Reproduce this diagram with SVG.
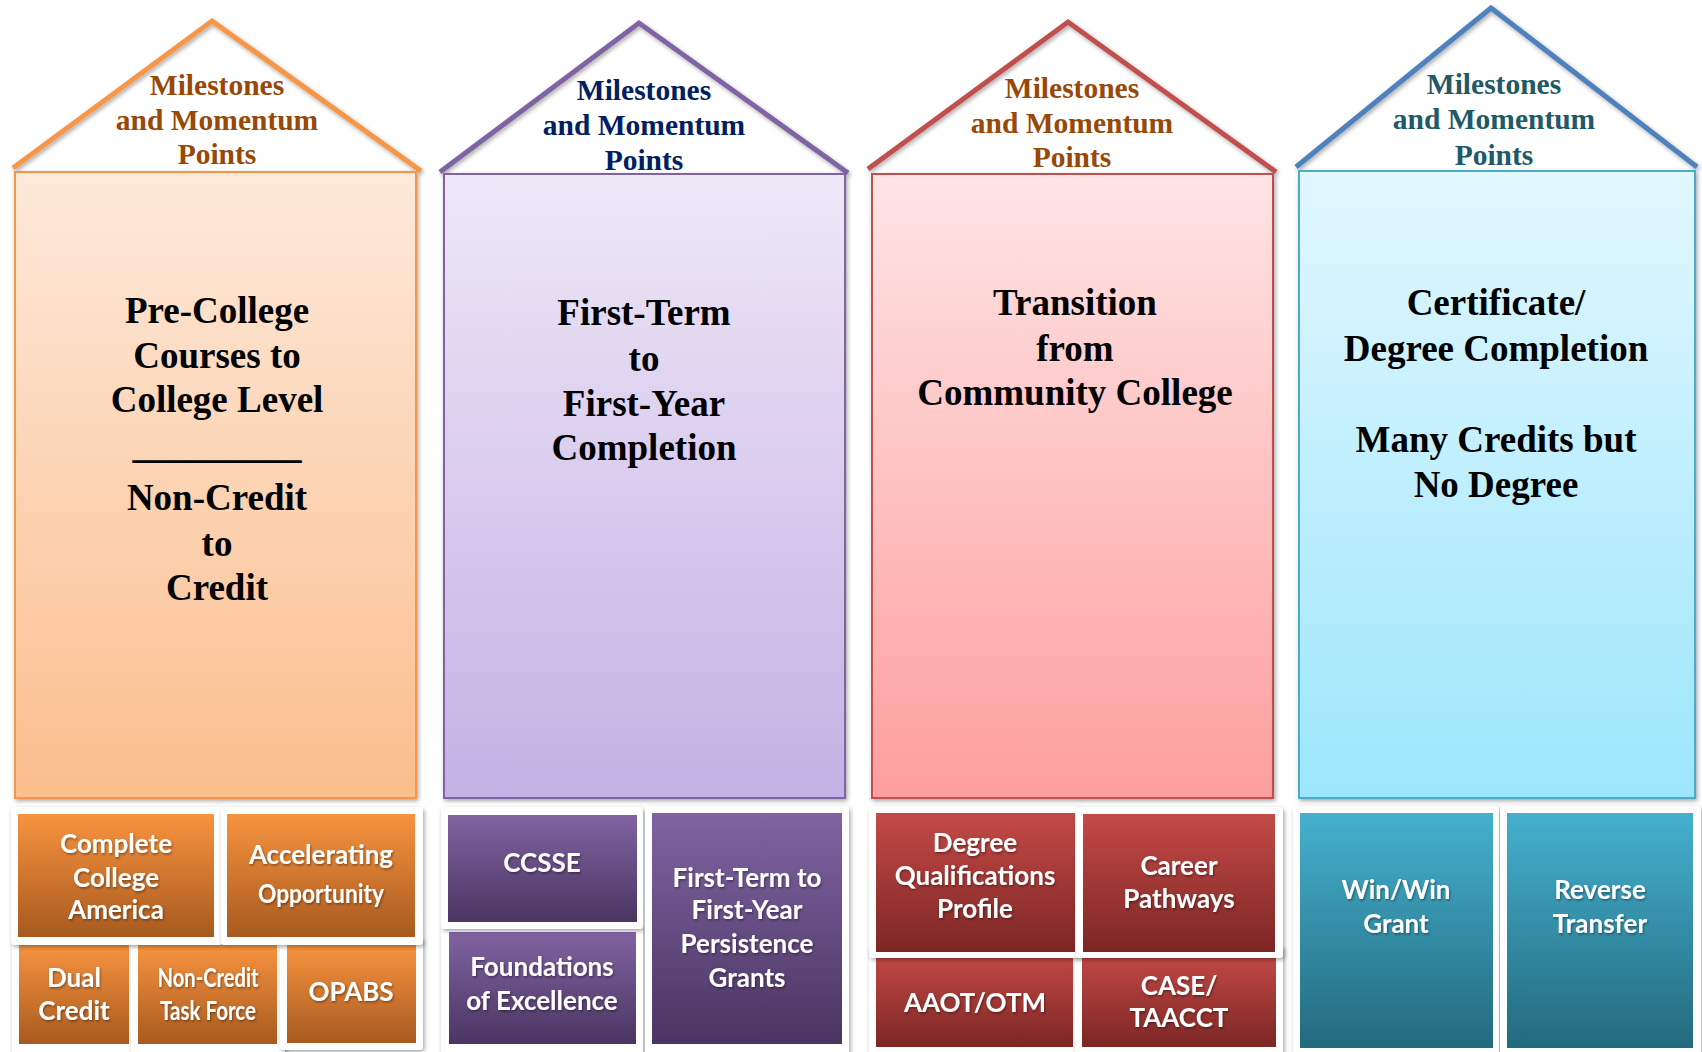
<svg xmlns="http://www.w3.org/2000/svg" width="1702" height="1052" viewBox="0 0 1702 1052">
<defs>
<linearGradient id="bO" x1="0" y1="0" x2="0" y2="1"><stop offset="0" stop-color="#FDE9DA"/><stop offset="1" stop-color="#FBBE8D"/></linearGradient>
<linearGradient id="bP" x1="0" y1="0" x2="0" y2="1"><stop offset="0" stop-color="#EEE8F7"/><stop offset="1" stop-color="#C4B0E4"/></linearGradient>
<linearGradient id="bR" x1="0" y1="0" x2="0" y2="1"><stop offset="0" stop-color="#FFE4E4"/><stop offset="1" stop-color="#FD9E9E"/></linearGradient>
<linearGradient id="bB" x1="0" y1="0" x2="0" y2="1"><stop offset="0" stop-color="#E2F7FE"/><stop offset="1" stop-color="#9CE6FC"/></linearGradient>
<linearGradient id="gO" x1="0" y1="0" x2="0" y2="1"><stop offset="0" stop-color="#F7933F"/><stop offset="1" stop-color="#A85A1F"/></linearGradient>
<linearGradient id="gP" x1="0" y1="0" x2="0" y2="1"><stop offset="0" stop-color="#8063A1"/><stop offset="1" stop-color="#4A3562"/></linearGradient>
<linearGradient id="gR" x1="0" y1="0" x2="0" y2="1"><stop offset="0" stop-color="#C44A47"/><stop offset="1" stop-color="#7C2624"/></linearGradient>
<linearGradient id="gT" x1="0" y1="0" x2="0" y2="1"><stop offset="0" stop-color="#45B0CF"/><stop offset="1" stop-color="#236A7D"/></linearGradient>
<filter id="sh" x="-10%" y="-10%" width="120%" height="120%"><feDropShadow dx="1.5" dy="2" stdDeviation="2" flood-color="#000" flood-opacity="0.35"/></filter>
<filter id="tsh" x="-10%" y="-20%" width="120%" height="140%"><feDropShadow dx="1" dy="1.5" stdDeviation="1" flood-color="#000" flood-opacity="0.4"/></filter>
</defs>
<style>
.roof{fill:none;stroke-width:5;stroke-linejoin:miter;filter:url(#sh)}
.body{stroke-width:2;filter:url(#sh)}
.frame{fill:#fff;filter:url(#sh)}
.rt{font-family:"Liberation Serif","Times New Roman",serif;font-weight:bold;font-size:29.5px;text-anchor:middle}
.bt{font-family:"Liberation Serif","Times New Roman",serif;font-weight:bold;font-size:37px;text-anchor:middle;fill:#000}
.xt{font-family:Lato,"Open Sans",sans-serif;font-weight:bold;font-size:26px;text-anchor:middle;fill:#fff;filter:url(#tsh)}
</style>
<rect width="1702" height="1052" fill="#fff"/>

<g id="col-precollege">
<polyline class="roof" stroke="#F79646" points="13,168 212,21 421,171"/>
<rect class="body" x="15" y="172" width="401" height="626" fill="url(#bO)" stroke="#F79646"/>
<text class="rt" fill="#984807"><tspan x="217" y="95">Milestones</tspan><tspan x="217" y="130">and Momentum</tspan><tspan x="217" y="164">Points</tspan></text>
<text class="bt"><tspan x="217" y="323">Pre-College</tspan><tspan x="217" y="368">Courses to</tspan><tspan x="217" y="412">College Level</tspan><tspan x="217" y="458" textLength="169" lengthAdjust="spacingAndGlyphs">_________</tspan><tspan x="217" y="510">Non-Credit</tspan><tspan x="217" y="556">to</tspan><tspan x="217" y="600">Credit</tspan></text>
</g>

<g id="col-firstterm">
<polyline class="roof" stroke="#8064A2" points="440,172 639,23 848,173"/>
<rect class="body" x="444" y="174" width="401" height="624" fill="url(#bP)" stroke="#8064A2"/>
<text class="rt" fill="#002060"><tspan x="644" y="100">Milestones</tspan><tspan x="644" y="135">and Momentum</tspan><tspan x="644" y="170">Points</tspan></text>
<text class="bt"><tspan x="644" y="325">First-Term</tspan><tspan x="644" y="371">to</tspan><tspan x="644" y="416">First-Year</tspan><tspan x="644" y="460">Completion</tspan></text>
</g>

<g id="col-transition">
<polyline class="roof" stroke="#C0504D" points="868,169 1068,22 1276,172"/>
<rect class="body" x="872" y="174" width="401" height="624" fill="url(#bR)" stroke="#C0504D"/>
<text class="rt" fill="#984807"><tspan x="1072" y="98">Milestones</tspan><tspan x="1072" y="133">and Momentum</tspan><tspan x="1072" y="167">Points</tspan></text>
<text class="bt"><tspan x="1075" y="315">Transition</tspan><tspan x="1075" y="361">from</tspan><tspan x="1075" y="405">Community College</tspan></text>
</g>

<g id="col-completion">
<polyline class="roof" stroke="#4F81BD" points="1296,167 1491,8 1697,167"/>
<rect class="body" x="1299" y="171" width="396" height="627" fill="url(#bB)" stroke="#4BACC6"/>
<text class="rt" fill="#215968"><tspan x="1494" y="94">Milestones</tspan><tspan x="1494" y="129">and Momentum</tspan><tspan x="1494" y="165">Points</tspan></text>
<text class="bt"><tspan x="1496" y="315">Certificate/</tspan><tspan x="1496" y="361">Degree Completion</tspan><tspan x="1496" y="452">Many Credits but</tspan><tspan x="1496" y="497">No Degree</tspan></text>
</g>

<g id="box-dual-credit">
<rect class="frame" x="12" y="938" width="126" height="120" rx="4"/>
<rect x="19" y="945" width="110" height="99" fill="url(#gO)"/>
<text class="xt"><tspan x="74" y="987">Dual</tspan><tspan x="74" y="1020">Credit</tspan></text>
</g>
<g id="box-noncredit-taskforce">
<rect class="frame" x="131" y="938" width="154" height="120" rx="4"/>
<rect x="138" y="945" width="139" height="99" fill="url(#gO)"/>
<text class="xt"><tspan x="208" y="987" textLength="101" lengthAdjust="spacingAndGlyphs">Non-Credit</tspan><tspan x="208" y="1020" textLength="96" lengthAdjust="spacingAndGlyphs">Task Force</tspan></text>
</g>
<g id="box-opabs">
<rect class="frame" x="280" y="938" width="143" height="112" rx="4"/>
<rect x="287" y="945" width="129" height="98" fill="url(#gO)"/>
<text class="xt" x="351" y="1001">OPABS</text>
</g>
<g id="box-complete-college-america">
<rect class="frame" x="11" y="807" width="211" height="138" rx="4"/>
<rect x="18" y="814" width="196" height="123" fill="url(#gO)"/>
<text class="xt"><tspan x="116" y="853">Complete</tspan><tspan x="116" y="887">College</tspan><tspan x="116" y="919">America</tspan></text>
</g>
<g id="box-accelerating-opportunity">
<rect class="frame" x="221" y="807" width="202" height="138" rx="4"/>
<rect x="227" y="814" width="188" height="123" fill="url(#gO)"/>
<text class="xt"><tspan x="321" y="864">Accelerating</tspan><tspan x="321" y="903" textLength="126" lengthAdjust="spacingAndGlyphs">Opportunity</tspan></text>
</g>

<g id="box-foundations">
<rect class="frame" x="441" y="925" width="202" height="133" rx="4"/>
<rect x="449" y="932" width="187" height="112" fill="url(#gP)"/>
<text class="xt"><tspan x="542" y="976">Foundations</tspan><tspan x="542" y="1010">of Excellence</tspan></text>
</g>
<g id="box-ccsse">
<rect class="frame" x="441" y="807" width="202" height="122" rx="4"/>
<rect x="448" y="815" width="189" height="107" fill="url(#gP)"/>
<text class="xt" x="542" y="872">CCSSE</text>
</g>
<g id="box-persistence-grants">
<rect class="frame" x="645" y="806" width="204" height="252" rx="4"/>
<rect x="652" y="813" width="190" height="231" fill="url(#gP)"/>
<text class="xt"><tspan x="747" y="887">First-Term to</tspan><tspan x="747" y="919">First-Year</tspan><tspan x="747" y="953">Persistence</tspan><tspan x="747" y="987">Grants</tspan></text>
</g>

<g id="box-aaot">
<rect class="frame" x="869" y="945" width="211" height="113" rx="4"/>
<rect x="876" y="952" width="197" height="95" fill="url(#gR)"/>
<text class="xt" x="975" y="1012">AAOT/OTM</text>
</g>
<g id="box-case">
<rect class="frame" x="1075" y="945" width="208" height="113" rx="4"/>
<rect x="1082" y="952" width="194" height="95" fill="url(#gR)"/>
<text class="xt"><tspan x="1179" y="995">CASE/</tspan><tspan x="1179" y="1027">TAACCT</tspan></text>
</g>
<g id="box-dqp">
<rect class="frame" x="869" y="806" width="211" height="152" rx="4"/>
<rect x="876" y="813" width="199" height="139" fill="url(#gR)"/>
<text class="xt"><tspan x="975" y="852">Degree</tspan><tspan x="975" y="885">Qualifications</tspan><tspan x="975" y="918">Profile</tspan></text>
</g>
<g id="box-career-pathways">
<rect class="frame" x="1076" y="807" width="207" height="151" rx="4"/>
<rect x="1083" y="814" width="192" height="138" fill="url(#gR)"/>
<text class="xt"><tspan x="1179" y="875">Career</tspan><tspan x="1179" y="908">Pathways</tspan></text>
</g>

<g id="box-winwin">
<rect class="frame" x="1293" y="806" width="206" height="252" rx="4"/>
<rect x="1300" y="813" width="193" height="235" fill="url(#gT)"/>
<text class="xt"><tspan x="1396" y="899">Win/Win</tspan><tspan x="1396" y="933">Grant</tspan></text>
</g>
<g id="box-reverse-transfer">
<rect class="frame" x="1500" y="806" width="201" height="252" rx="4"/>
<rect x="1507" y="813" width="186" height="235" fill="url(#gT)"/>
<text class="xt"><tspan x="1600" y="899">Reverse</tspan><tspan x="1600" y="933">Transfer</tspan></text>
</g>

<g id="connectors"/>
</svg>
